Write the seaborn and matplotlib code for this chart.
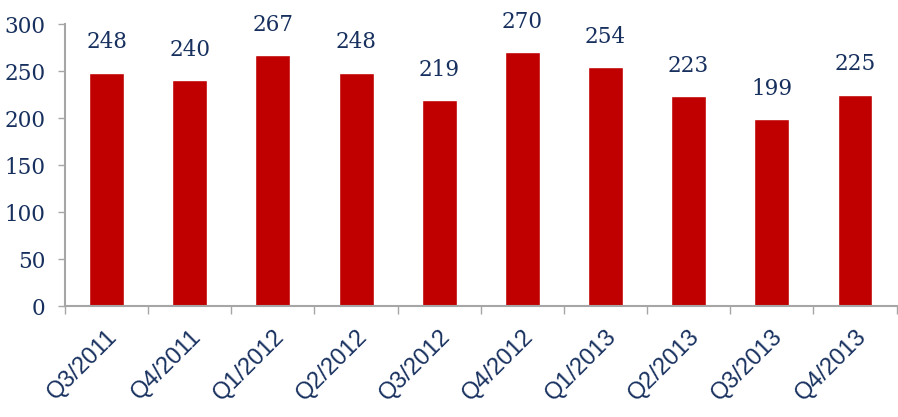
import matplotlib
matplotlib.use("Agg")
import matplotlib.pyplot as plt
import seaborn as sns
import pandas as pd

# data
quarters = ["Q3/2011", "Q4/2011", "Q1/2012", "Q2/2012", "Q3/2012",
            "Q4/2012", "Q1/2013", "Q2/2013", "Q3/2013", "Q4/2013"]
values = [248, 240, 267, 248, 219, 270, 254, 223, 199, 225]

bar_color = "#C00000"
text_color = "#17305E"
axis_color = "#A6A6A6"

sns.set_theme(style="white")

df = pd.DataFrame({"quarter": quarters, "value": values})

fig = plt.figure(figsize=(8.98, 4.17), dpi=100)
ax = fig.add_axes([0.0724, 0.266, 0.926, 0.6764])

sns.barplot(data=df, x="quarter", y="value", color=bar_color,
            saturation=1, width=0.42, ax=ax)

ax.set_ylim(0, 300)
ax.set_xlim(-0.5, len(quarters) - 0.5)
ax.set_yticks(range(0, 301, 50))
ax.set_xlabel("")
ax.set_ylabel("")

# value labels above bars
ax.bar_label(ax.containers[0], labels=[str(v) for v in values], padding=14,
             fontsize=15.5, color=text_color, family="DejaVu Serif")

# y tick labels
for lbl in ax.get_yticklabels():
    lbl.set_family("DejaVu Serif")
    lbl.set_fontsize(15.5)
    lbl.set_color(text_color)
ax.tick_params(axis="y", length=5, width=1, color=axis_color, pad=9, left=True)

# x tick labels: rotated, anchored at category center
ax.set_xticks(range(len(quarters)))
ax.set_xticklabels(quarters, rotation=45, ha="right", rotation_mode="anchor",
                   fontsize=17, color=text_color, family="Liberation Sans")
ax.tick_params(axis="x", length=0, pad=14)

# minor ticks between categories on the bottom axis
ax.set_xticks([i - 0.5 for i in range(len(quarters) + 1)], minor=True)
ax.tick_params(axis="x", which="minor", length=6, width=1, color=axis_color,
               bottom=True)

sns.despine(ax=ax, top=True, right=True)
for side in ["left", "bottom"]:
    ax.spines[side].set_color(axis_color)
    ax.spines[side].set_linewidth(1.5)

fig.savefig("out.png", dpi=100)
